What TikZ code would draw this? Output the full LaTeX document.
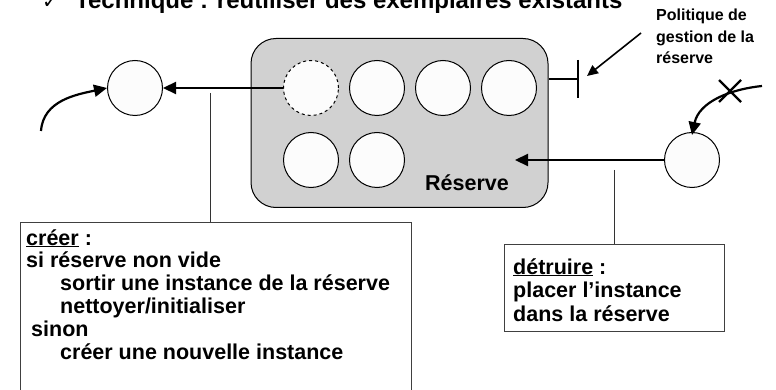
\documentclass[tikz,border=0pt]{standalone}
\usepackage{fontspec}
\setmainfont{Liberation Sans}
\newfontfamily\symfont{DejaVu Sans}
\usetikzlibrary{arrows.meta}
\begin{document}
\begin{tikzpicture}[x=1pt,y=-1pt,
  circ/.style={circle, draw=black, line width=1pt, fill=black!1, minimum size=55pt, inner sep=0pt},
  conn/.style={line width=2.2pt, -{Triangle[length=13pt,width=12pt]}},
  plainline/.style={line width=2.2pt},
  thinline/.style={line width=1pt, draw=black!80},
  txtbox/.style={draw=black!75, line width=1pt, fill=white, inner sep=0pt},
  lbl/.style={font=\bfseries\fontsize{21.5}{22.9}\selectfont, anchor=base west, inner sep=0pt},
  reservebox/.style={draw=black, line width=1pt, fill=black!18, rounded corners=25pt, inner sep=0pt}
]
\useasboundingbox (0,0) rectangle (776,390);
\clip (0,0) rectangle (776,390);

% title (cut at the top)
\node[anchor=base west, inner sep=0pt, font=\symfont\bfseries\fontsize{20}{24}\selectfont] (check) at (42,9) {✓};
\node[anchor=base west, inner sep=0pt, font=\bfseries\fontsize{24}{28}\selectfont] (title) at (75,9) {Technique : réutiliser des exemplaires existants};

% reserve
\node[reservebox, minimum width=297pt, minimum height=169pt] (res) at (399.5,123) {};
\node[circ, dashed] (c1) at (311,88) {};
\node[circ] (c2) at (377,88) {};
\node[circ] (c3) at (443,88) {};
\node[circ] (c4) at (509,88) {};
\node[circ] (c5) at (311,160) {};
\node[circ] (c6) at (377,160) {};
\node[lbl] (reslbl) at (425,190) {Réserve};

% left side: creation
\node[circ] (L) at (135,88) {};
\draw[conn] (c1.west) -- (L.east);
\coordinate (s1) at (41,131);
\draw[conn] (s1) to[out=86, in=192] (L.west);

% creer box
\node[txtbox, anchor=north west, minimum width=391pt, minimum height=190pt] (crbox) at (20,222) {};
\node[lbl] (crtext) at (26,245) {\parbox[t]{380pt}{\underline{créer} :\\
si réserve non vide\\
\hspace*{34pt}sortir une instance de la réserve\\
\hspace*{34pt}nettoyer/initialiser\\
\hspace*{5pt}sinon\\
\hspace*{34pt}créer une nouvelle instance}};
\coordinate (a1) at (210,93);
\draw[thinline] (a1) -- (a1 |- crbox.north);

% right side: destruction
\node[circ] (Rc) at (692,160) {};
\coordinate (rin) at (515,160);
\draw[conn] (Rc.west) -- (rin);
\coordinate (x0) at (762,86);
\draw[conn] (x0) to[out=186, in=78] ([yshift=-3pt]Rc.north);
\coordinate (xc) at (730,91);
\draw[plainline] ([shift={(-11,-11)}]xc) -- ([shift={(11,11)}]xc);
\draw[plainline] ([shift={(-11,11)}]xc) -- ([shift={(11,-11)}]xc);

% detruire box
\node[txtbox, anchor=north west, minimum width=220pt, minimum height=87pt] (detbox) at (504,244) {};
\node[lbl] (dettext) at (513,274) {\parbox[t]{210pt}{\fontsize{21.5}{23.5}\selectfont\underline{détruire} :\\
placer l’instance\\
dans la réserve}};
\coordinate (a2) at (614,170);
\draw[thinline] (a2) -- (a2 |- detbox.north);

% policy
\coordinate (tmid) at (578,79);
\draw[plainline] (tmid -| res.east) -- (tmid);
\coordinate (bt) at (578,60);
\coordinate (bb) at (578,98);
\draw[plainline] (bt) -- (bb);
\node[anchor=base west, inner sep=0pt] (pol) at (656,21) {\parbox[t]{120pt}{\bfseries\fontsize{16}{21.5}\selectfont Politique de\\gestion de la\\réserve}};
\coordinate (p0) at (641,33);
\coordinate (ptip) at (587,76);
\draw[line width=1.6pt, -{Triangle[length=11pt,width=10pt]}] (p0) -- (ptip);
\end{tikzpicture}
\end{document}
